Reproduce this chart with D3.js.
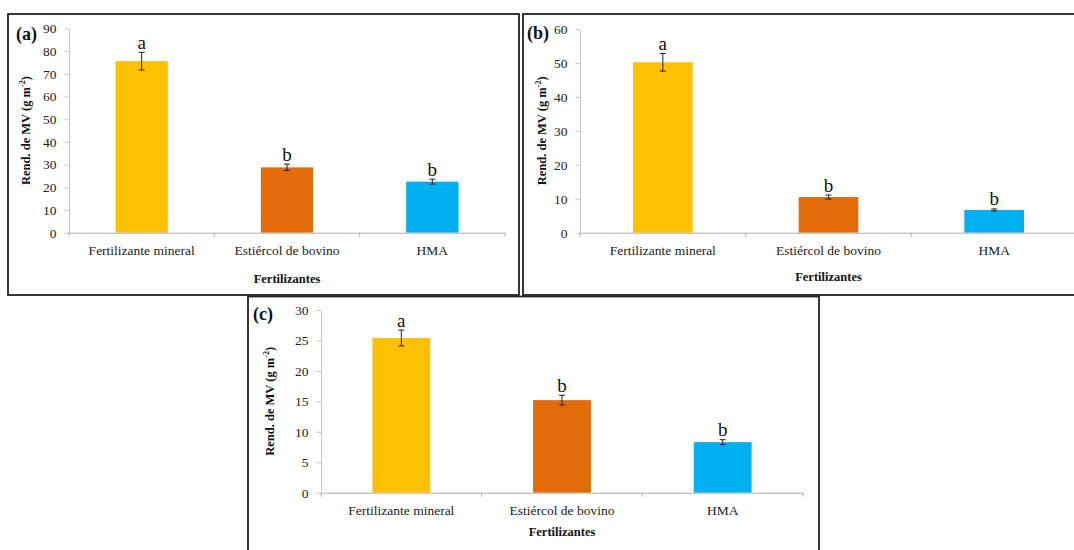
<!DOCTYPE html>
<html>
<head>
<meta charset="utf-8">
<script src="https://cdn.jsdelivr.net/npm/d3@7"></script>
<style>
  body { margin: 0; background: #fff; }
  svg text { font-family: "Liberation Serif", "Times New Roman", serif; }
</style>
</head>
<body>
<script>
// data
const categories = ['Fertilizante mineral', 'Estiércol de bovino', 'HMA'];
const barColors = ['#FFC000', '#E36C0A', '#00B0F0'];

const valuesA = [75.6, 28.8, 22.5];
const errorsA = [3.9, 1.4, 1.1];
const lettersA = ['a', 'b', 'b'];

const valuesB = [50.2, 10.5, 6.7];
const errorsB = [2.6, 0.6, 0.3];
const lettersB = ['a', 'b', 'b'];

const valuesC = [25.4, 15.2, 8.3];
const errorsC = [1.3, 0.8, 0.4];
const lettersC = ['a', 'b', 'b'];

const ticksA = [0, 10, 20, 30, 40, 50, 60, 70, 80, 90];
const ticksB = [0, 10, 20, 30, 40, 50, 60];
const ticksC = [0, 5, 10, 15, 20, 25, 30];

const yTitle = 'Rend. de MV (g m';
const xTitle = 'Fertilizantes';

var svg = d3.select('body')
    .append('svg')
    .attr('width', 1074)
    .attr('height', 550)

// layout of each panel (box and plot area)
const panels = [
    { tag: '(a)', values: valuesA, errors: errorsA, letters: lettersA, ticks: ticksA,
      box: [8, 14, 511, 281], left: 69, right: 505, top: 28.5, bottom: 232.7,
      tagX: 16, tagY: 40, yTitleX: 30, xTitleY: 283 },
    { tag: '(b)', values: valuesB, errors: errorsB, letters: lettersB, ticks: ticksB,
      box: [523, 14, 560, 281], left: 580, right: 1077, top: 29, bottom: 232.7,
      tagX: 527, tagY: 39, yTitleX: 546, xTitleY: 281 },
    { tag: '(c)', values: valuesC, errors: errorsC, letters: lettersC, ticks: ticksC,
      box: [248, 296.5, 571, 270], left: 321, right: 803, top: 310, bottom: 492.7,
      tagX: 253, tagY: 320, yTitleX: 274, xTitleY: 536 }
];

function drawPanel(p) {
    var g = svg.append('g')

    g.append('rect')
        .attr('x', p.box[0])
        .attr('y', p.box[1])
        .attr('width', p.box[2])
        .attr('height', p.box[3])
        .attr('fill', 'none')
        .attr('stroke', '#222')
        .attr('stroke-width', 1.8)

    var x = d3.scaleBand()
        .domain(categories)
        .range([p.left, p.right])
        .paddingInner(0.64)
        .paddingOuter(0.32)

    var y = d3.scaleLinear()
        .domain([0, d3.max(p.ticks)])
        .range([p.bottom, p.top])

    // y axis
    var yAxis = g.append('g')
        .attr('transform', 'translate(' + p.left + ',0)')
        .call(d3.axisLeft(y).tickValues(p.ticks).tickSize(4.5).tickSizeOuter(0).tickPadding(8))
    yAxis.select('.domain').attr('stroke', '#c8c8c8')
    yAxis.selectAll('.tick line').attr('stroke', '#c8c8c8')
    yAxis.selectAll('text')
        .style('font-size', '13.5px')
        .attr('fill', '#222')

    // bars
    var bars = categories.map((c, i) => ({ c: c, v: p.values[i], e: p.errors[i], l: p.letters[i], col: barColors[i] }))
    g.selectAll('.bar')
        .data(bars)
        .enter()
        .append('rect')
        .attr('class', 'bar')
        .attr('x', d => x(d.c))
        .attr('width', x.bandwidth())
        .attr('y', d => y(d.v))
        .attr('height', d => y(0) - y(d.v))
        .attr('fill', d => d.col)

    // x axis
    var xAxis = g.append('g')
        .attr('transform', 'translate(0,' + p.bottom + ')')
        .call(d3.axisBottom(x).tickSize(0).tickPadding(13))
    xAxis.select('.domain').attr('stroke', '#b0b0b0')
    xAxis.selectAll('text')
        .style('font-size', '13.5px')
        .attr('fill', '#222')

    var bounds = d3.range(categories.length + 1).map(i => p.left + i * x.step())
    g.selectAll('.xtick')
        .data(bounds)
        .enter()
        .append('line')
        .attr('x1', d => d)
        .attr('x2', d => d)
        .attr('y1', p.bottom)
        .attr('y2', p.bottom + 4)
        .attr('stroke', '#b0b0b0')

    // error bars
    var cx = d => x(d.c) + x.bandwidth() / 2
    var err = g.selectAll('.err')
        .data(bars)
        .enter()
        .append('g')
        .attr('stroke', '#222')
        .attr('stroke-width', 1)
    err.append('line')
        .attr('x1', cx).attr('x2', cx)
        .attr('y1', d => y(d.v + d.e))
        .attr('y2', d => y(d.v - d.e))
    err.append('line')
        .attr('x1', d => cx(d) - 3).attr('x2', d => cx(d) + 3)
        .attr('y1', d => y(d.v + d.e)).attr('y2', d => y(d.v + d.e))
    err.append('line')
        .attr('x1', d => cx(d) - 3).attr('x2', d => cx(d) + 3)
        .attr('y1', d => y(d.v - d.e)).attr('y2', d => y(d.v - d.e))

    // significance letters
    g.selectAll('.letter')
        .data(bars)
        .enter()
        .append('text')
        .attr('x', cx)
        .attr('y', d => y(d.v + d.e) - 3.5)
        .attr('text-anchor', 'middle')
        .style('font-size', '19px')
        .attr('fill', '#111')
        .text(d => d.l)

    // titles
    g.append('text')
        .attr('x', p.tagX)
        .attr('y', p.tagY)
        .style('font-size', '18px')
        .style('font-weight', 'bold')
        .attr('fill', '#111')
        .text(p.tag)

    g.append('text')
        .attr('x', (p.left + p.right) / 2)
        .attr('y', p.xTitleY)
        .attr('text-anchor', 'middle')
        .style('font-size', '12.5px')
        .style('font-weight', 'bold')
        .attr('fill', '#111')
        .text(xTitle)

    var yt = g.append('text')
        .attr('transform', 'translate(' + p.yTitleX + ',' + ((p.top + p.bottom) / 2) + ') rotate(-90)')
        .attr('text-anchor', 'middle')
        .style('font-size', '12.5px')
        .style('font-weight', 'bold')
        .attr('fill', '#111')
    yt.append('tspan').text(yTitle)
    yt.append('tspan').attr('dy', -5).style('font-size', '8px').text('-2')
    yt.append('tspan').attr('dy', 5).text(')')
}

panels.forEach(drawPanel)
</script>
</body>
</html>
